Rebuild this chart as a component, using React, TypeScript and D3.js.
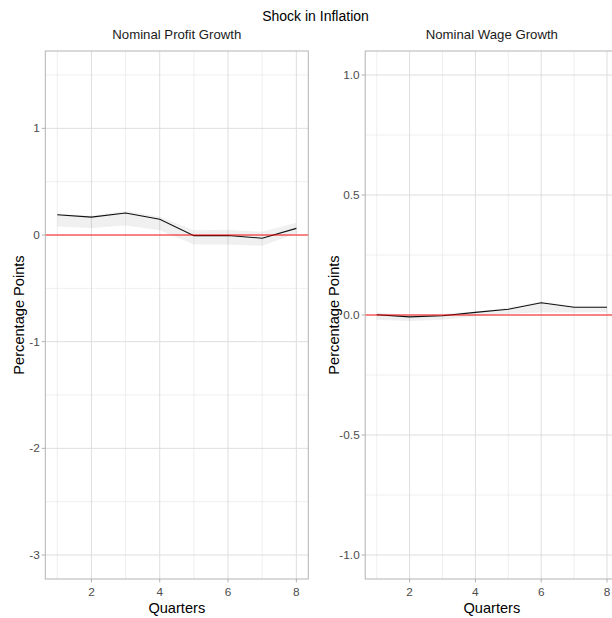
import React from "react";
import * as d3 from "d3";

const quarters = [1, 2, 3, 4, 5, 6, 7, 8];
const profitIrf = [0.19, 0.168, 0.206, 0.147, -0.006, -0.005, -0.03, 0.062];
const profitLower = [0.08, 0.065, 0.09, 0.045, -0.09, -0.09, -0.1, 0.015];
const profitUpper = [0.2, 0.18, 0.225, 0.17, 0.045, 0.05, 0.03, 0.115];
const wageIrf = [0.001, -0.008, -0.003, 0.011, 0.024, 0.051, 0.032, 0.032];
const wageLower = [-0.02, -0.025, -0.02, -0.005, 0.005, 0.01, 0.01, 0.012];
const wageUpper = [0.01, 0.0, 0.005, 0.015, 0.03, 0.056, 0.036, 0.036];
const xTicks = [2, 4, 6, 8];
const profitYTicks = [-3, -2, -1, 0, 1];
const profitYMinor = [-2.5, -1.5, -0.5, 0.5, 1.5];
const wageYTicks = [-1, -0.5, 0, 0.5, 1];
const wageYMinor = [-0.75, -0.25, 0.25, 0.75];

const FONT = "'Liberation Sans', Arial, sans-serif";
const TOP = 51;
const BOTTOM = 579;

type PanelProps = {
  title: string;
  x0: number;
  x1: number;
  yDomain: [number, number];
  yTicks: number[];
  yMinor: number[];
  fmt: (v: number) => string;
  irf: number[];
  lower: number[];
  upper: number[];
  yTitleX: number;
};

function Panel(p: PanelProps) {
  const x = d3.scaleLinear().domain([0.65, 8.35]).range([p.x0, p.x1]);
  const span = p.yDomain[1] - p.yDomain[0];
  const y = d3
    .scaleLinear()
    .domain([p.yDomain[0] - 0.05 * span, p.yDomain[1] + 0.05 * span])
    .range([BOTTOM, TOP]);
  const rows = quarters.map((q, i) => ({ q, v: p.irf[i], lo: p.lower[i], hi: p.upper[i] }));
  const line = d3
    .line<{ q: number; v: number }>()
    .x((d) => x(d.q))
    .y((d) => y(d.v));
  const area = d3
    .area<{ q: number; lo: number; hi: number }>()
    .x((d) => x(d.q))
    .y0((d) => y(d.lo))
    .y1((d) => y(d.hi));
  const cx = (p.x0 + p.x1) / 2;
  const cy = (TOP + BOTTOM) / 2;
  return (
    <g>
      <text x={cx} y={38.5} textAnchor="middle" fontSize={13.2} fill="#1a1a1a" fontFamily={FONT}>
        {p.title}
      </text>
      {p.yMinor.map((t) => (
        <line key={"ym" + t} x1={p.x0} x2={p.x1} y1={y(t)} y2={y(t)} stroke="#ebebeb" strokeWidth={0.8} />
      ))}
      {quarters
        .filter((q) => q % 2 === 1)
        .map((q) => (
          <line key={"xm" + q} x1={x(q)} x2={x(q)} y1={TOP} y2={BOTTOM} stroke="#ebebeb" strokeWidth={0.8} />
        ))}
      {p.yTicks.map((t) => (
        <line key={"y" + t} x1={p.x0} x2={p.x1} y1={y(t)} y2={y(t)} stroke="#dedede" strokeWidth={1} />
      ))}
      {xTicks.map((t) => (
        <line key={"x" + t} x1={x(t)} x2={x(t)} y1={TOP} y2={BOTTOM} stroke="#dedede" strokeWidth={1} />
      ))}
      <path d={area(rows) || ""} fill="#808080" fillOpacity={0.12} />
      <path d={line(rows) || ""} fill="none" stroke="#111" strokeWidth={1.1} />
      <line x1={p.x0} x2={p.x1} y1={y(0)} y2={y(0)} stroke="#ff0000" strokeOpacity={0.6} strokeWidth={1.3} />
      <rect x={p.x0} y={TOP} width={p.x1 - p.x0} height={BOTTOM - TOP} fill="none" stroke="#b3b3b3" strokeWidth={1} />
      {p.yTicks.map((t) => (
        <g key={"yt" + t}>
          <line x1={p.x0 - 3.5} x2={p.x0} y1={y(t)} y2={y(t)} stroke="#b3b3b3" strokeWidth={1} />
          <text x={p.x0 - 5.5} y={y(t)} dy="0.35em" textAnchor="end" fontSize={11.8} fill="#4d4d4d" fontFamily={FONT}>
            {p.fmt(t)}
          </text>
        </g>
      ))}
      {xTicks.map((t) => (
        <g key={"xt" + t}>
          <line x1={x(t)} x2={x(t)} y1={BOTTOM} y2={BOTTOM + 3.5} stroke="#b3b3b3" strokeWidth={1} />
          <text x={x(t)} y={595.5} textAnchor="middle" fontSize={11.8} fill="#4d4d4d" fontFamily={FONT}>
            {t}
          </text>
        </g>
      ))}
      <text x={cx} y={612.5} textAnchor="middle" fontSize={14.6} fill="#000" fontFamily={FONT}>
        Quarters
      </text>
      <text
        transform={`translate(${p.yTitleX},${cy}) rotate(-90)`}
        textAnchor="middle"
        fontSize={14.6}
        fill="#000"
        fontFamily={FONT}
      >
        Percentage Points
      </text>
    </g>
  );
}

export default function App() {
  return (
    <div style={{ position: "absolute", left: 0, top: 0, width: 612, height: 618, overflow: "hidden" }}>
      <svg width={612} height={618} style={{ display: "block", background: "#fff" }}>
        <rect width={612} height={618} fill="#fff" />
        <text x={315.5} y={20.5} textAnchor="middle" fontSize={14} fill="#000" fontFamily={FONT}>
          Shock in Inflation
        </text>
        <Panel
          title="Nominal Profit Growth"
          x0={45.3}
          x1={308.3}
          yDomain={[-3, 1.5]}
          yTicks={profitYTicks}
          yMinor={profitYMinor}
          fmt={(v) => d3.format("d")(v).replace("−", "-")}
          irf={profitIrf}
          lower={profitLower}
          upper={profitUpper}
          yTitleX={23.5}
        />
        <Panel
          title="Nominal Wage Growth"
          x0={365.2}
          x1={618.5}
          yDomain={[-1, 1]}
          yTicks={wageYTicks}
          yMinor={wageYMinor}
          fmt={(v) => d3.format(".1f")(v).replace("−", "-")}
          irf={wageIrf}
          lower={wageLower}
          upper={wageUpper}
          yTitleX={338.5}
        />
      </svg>
    </div>
  );
}
